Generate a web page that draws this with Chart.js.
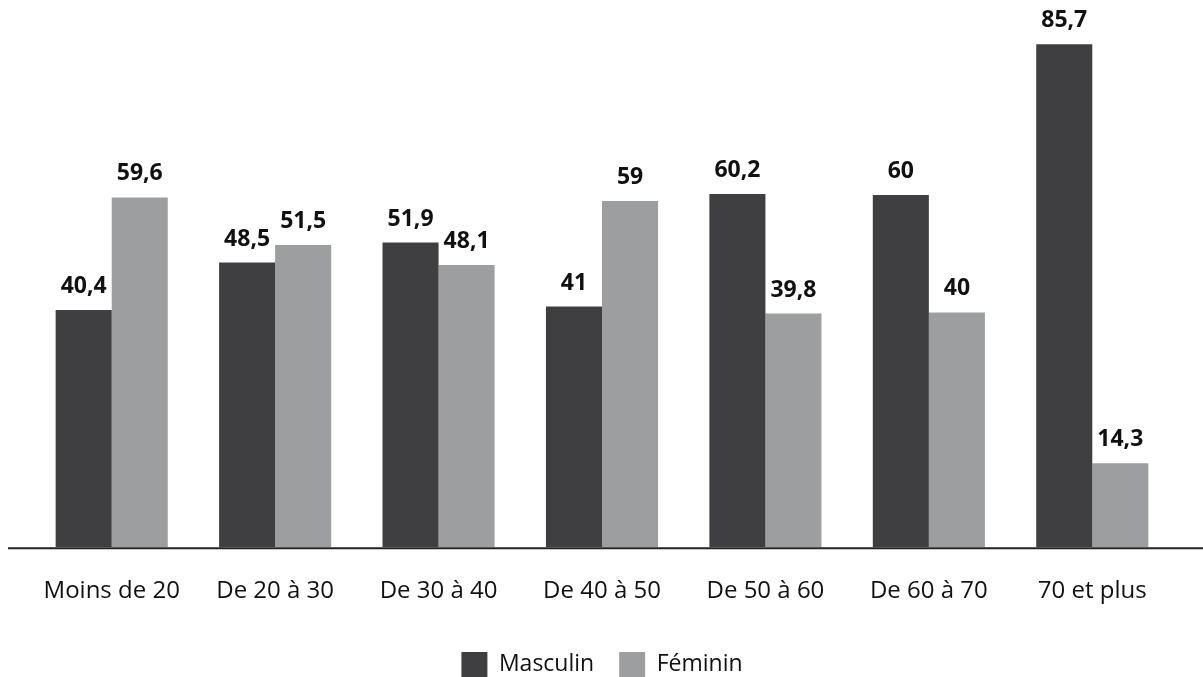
<!DOCTYPE html>
<html>
<head>
<meta charset="utf-8">
<script src="https://cdn.jsdelivr.net/npm/chart.js@4/dist/chart.umd.min.js"></script>
<style>
  html, body { margin: 0; padding: 0; background: #ffffff; }
  #wrap { width: 1203px; height: 677px; position: relative; }
</style>
</head>
<body>
<div id="wrap"><canvas id="c" width="1203" height="677"></canvas></div>
<script>
const categories = ["Moins de 20", "De 20 à 30", "De 30 à 40", "De 40 à 50", "De 50 à 60", "De 60 à 70", "70 et plus"];
const masculin = [40.4, 48.5, 51.9, 41, 60.2, 60, 85.7];
const feminin = [59.6, 51.5, 48.1, 59, 39.8, 40, 14.3];
const seriesNames = ["Masculin", "Féminin"];

const DARK = "#3f3f41";
const LIGHT = "#9d9ea0";

function fmt(v) { return String(v).replace(".", ","); }

const valueLabels = {
  id: "valueLabels",
  afterDatasetsDraw(chart) {
    const ctx = chart.ctx;
    ctx.save();
    ctx.font = "bold 23px 'Open Sans'";
    ctx.fillStyle = "#111111";
    ctx.textAlign = "center";
    ctx.textBaseline = "alphabetic";
    chart.data.datasets.forEach((ds, di) => {
      const meta = chart.getDatasetMeta(di);
      meta.data.forEach((bar, i) => {
        ctx.fillText(fmt(ds.data[i]), bar.x, bar.y - 17);
      });
    });
    ctx.restore();
  }
};

const baseLine = {
  id: "baseLine",
  afterDatasetsDraw(chart) {
    const ctx = chart.ctx;
    const y = chart.scales.y.getPixelForValue(0);
    ctx.save();
    ctx.strokeStyle = "#222222";
    ctx.lineWidth = 2;
    ctx.beginPath();
    ctx.moveTo(8, y + 1);
    ctx.lineTo(chart.width, y + 1);
    ctx.stroke();
    ctx.restore();
  }
};

new Chart(document.getElementById("c"), {
  type: "bar",
  data: {
    labels: categories,
    datasets: [
      { label: seriesNames[0], data: masculin, backgroundColor: DARK, borderWidth: 0 },
      { label: seriesNames[1], data: feminin, backgroundColor: LIGHT, borderWidth: 0 }
    ]
  },
  options: {
    responsive: false,
    animation: false,
    devicePixelRatio: 1,
    layout: { padding: { left: 30, right: 29, top: 19, bottom: -10 } },
    datasets: { bar: { categoryPercentage: 0.686, barPercentage: 1.0 } },
    scales: {
      x: {
        grid: { display: false },
        border: { display: false },
        ticks: {
          color: "#111111",
          font: { family: "'Open Sans'", size: 24 },
          padding: 22,
          maxRotation: 0
        },
        afterFit(scale) { scale.height -= 1; }
      },
      y: {
        display: false,
        min: 0,
        max: 90
      }
    },
    plugins: {
      legend: {
        position: "bottom",
        labels: {
          color: "#111111",
          font: { family: "'Open Sans'", size: 23 },
          boxWidth: 26,
          boxHeight: 25,
          padding: 25
        }
      },
      tooltip: { enabled: false }
    }
  },
  plugins: [valueLabels, baseLine]
});
</script>
</body>
</html>
